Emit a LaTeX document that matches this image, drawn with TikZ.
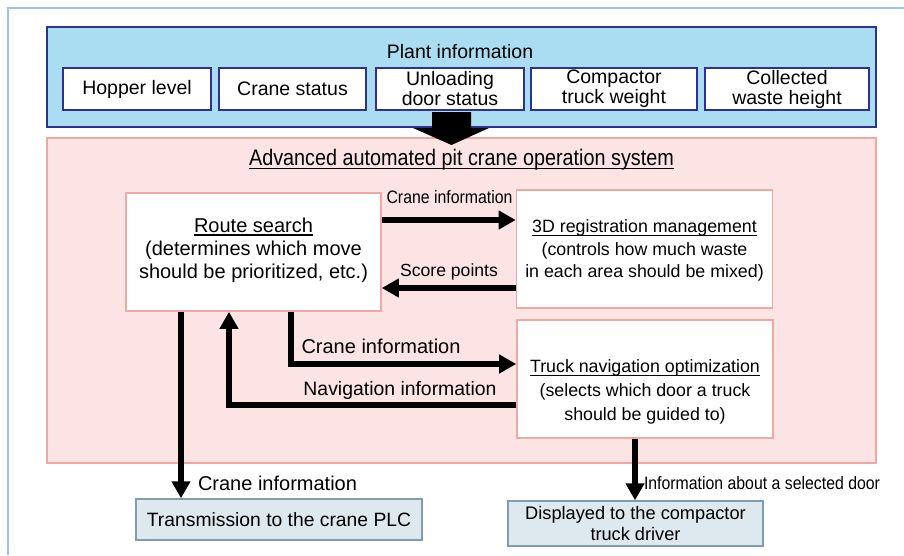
\documentclass[tikz,border=0pt]{standalone}
\usepackage{fontspec}
\setmainfont{Liberation Sans}
\newfontfamily\narrowfont[FakeStretch=0.88]{Liberation Sans}
\usetikzlibrary{arrows.meta}

\definecolor{frameblue}{HTML}{9DC3EA}
\definecolor{plantfill}{HTML}{AADDF1}
\definecolor{navy}{HTML}{2E3192}
\definecolor{pinkfill}{HTML}{FCE4E4}
\definecolor{pinkline}{HTML}{F0A8A4}
\definecolor{outfill}{HTML}{DDE8EF}
\definecolor{outline}{HTML}{7F9CB0}

\newcommand{\fs}[2]{\fontsize{#1}{#2}\selectfont}
% heading with a solid rule below the baseline
\newcommand{\headline}[1]{\setbox0\hbox{#1}\rlap{\rule[-3.5pt]{\wd0}{1.3pt}}\box0}

\tikzset{
  plantitem/.style={draw=navy, line width=1.6pt, fill=white, minimum height=42pt,
    align=center, inner sep=0pt, font=\fs{19.5}{20}},
  procbox/.style={draw=pinkline, line width=1.6pt, fill=white, inner sep=0pt},
  outbox/.style={draw=outline, line width=1.4pt, fill=outfill, align=center,
    inner sep=0pt},
  flow/.style={line width=5.5pt, -{Triangle[length=17pt,width=18pt]}},
  lbl/.style={inner sep=0pt, align=center},
}

\begin{document}
\begin{tikzpicture}[x=1pt,y=-1pt]
\useasboundingbox (0,0) rectangle (904,555);

% outer page rule
\draw[frameblue, line width=2.5pt] (904,8) -- (8,8) -- (8,555);

% plant information panel
\node[draw=navy, fill=plantfill, line width=1.8pt, minimum width=829pt,
  minimum height=100pt, inner sep=0pt] (plant) at (461.5,77) {};
\node[lbl, font=\fs{19.5}{20}] (planttitle) at (460,52) {Plant information};
\node[plantitem, minimum width=148pt] (hopper) at (137,89) {Hopper level};
\node[plantitem, minimum width=147pt] (cstatus) at (292.5,89) {Crane status};
\node[plantitem, minimum width=148pt] (door) at (450,89) {Unloading\\door status};
\node[plantitem, minimum width=166pt] (weight) at (614,89) {Compactor\\truck weight};
\node[plantitem, minimum width=164pt] (height) at (787,89) {Collected\\waste height};

% system panel
\node[draw=pinkline, fill=pinkfill, line width=1.6pt, minimum width=829pt,
  minimum height=325pt, inner sep=0pt] (system) at (461.5,300.5) {};

% big feed arrow from the plant panel into the system panel
\fill[black] (432,112) -- (471,112) -- (471,128) -- (489,128) -- (451.5,145)
  -- (413,128) -- (432,128) -- cycle;

\node[lbl, font=\narrowfont\fs{22.5}{24}] (systitle) at (461.5,160)
  {\headline{Advanced automated pit crane operation system}};

% processing blocks
\node[procbox, minimum width=255pt, minimum height=118pt] (route) at (253.5,252) {};
\node[lbl, font=\fs{20}{23}] (routetxt) at (253.5,250)
  {\headline{Route search}\\(determines which move\\should be prioritized, etc.)};

\node[procbox, minimum width=256pt, minimum height=118pt] (reg) at (644.5,249) {};
\node[lbl, font=\fs{17.8}{22.5}] (regtxt) at (644.5,250.5)
  {\headline{3D registration management}\\(controls how much waste\\in each area should be mixed)};

\node[procbox, minimum width=256pt, minimum height=118pt] (truck) at (645,379) {};
\node[lbl, font=\fs{17.8}{24}] (trucktxt) at (645,392)
  {\headline{Truck navigation optimization}\\(selects which door a truck\\should be guided to)};

% outputs
\node[outbox, minimum width=286pt, minimum height=41pt, font=\fs{19.3}{22}]
  (plc) at (279,519.5) {Transmission to the crane PLC};
\node[outbox, minimum width=255pt, minimum height=45pt, font=\fs{18.2}{21}]
  (driver) at (635.5,523.5) {Displayed to the compactor\\truck driver};

% data flows
\draw[flow] (route.east |- 0,220) -- (reg.west |- 0,220);
\draw[flow] (reg.west |- 0,288) -- (route.east |- 0,288);
\draw[flow] (route.south -| 291,0) -- (291,364) -- (truck.west |- 0,364);
\draw[flow] (truck.west |- 0,405) -- (229,405) -- (route.south -| 229,0);
\draw[flow] (route.south -| 181,0) -- (plc.north -| 181,0);
\draw[flow] (truck.south -| 635,0) -- (driver.north -| 635,0);

% flow labels
\node[lbl, font=\narrowfont\fs{18}{20}] (l1) at (449.5,197) {Crane information};
\node[lbl, font=\fs{17.6}{20}] (l2) at (449,272) {Score points};
\node[lbl, font=\fs{20}{22}] (l3) at (381,346) {Crane information};
\node[lbl, font=\fs{19.4}{22}] (l4) at (400,390) {Navigation information};
\node[lbl, font=\fs{20}{22}] (l5) at (277.5,483) {Crane information};
\node[lbl, font=\narrowfont\fs{18}{20}] (l6) at (762,483) {Information about a selected door};
\end{tikzpicture}
\end{document}
